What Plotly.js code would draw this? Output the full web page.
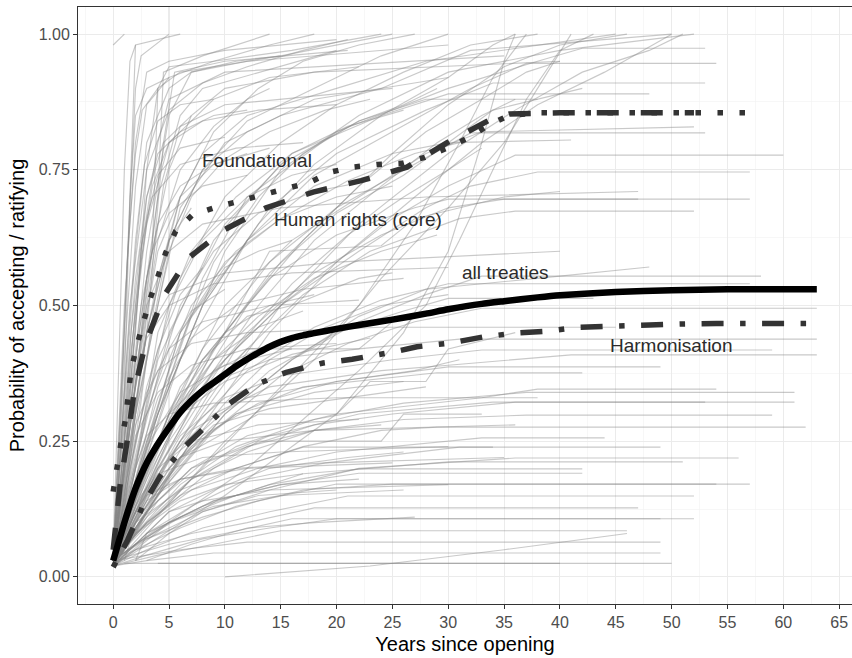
<!DOCTYPE html>
<html>
<head>
<meta charset="utf-8">
<script src="https://cdn.plot.ly/plotly-3.0.1.min.js"></script>
<style>html,body{margin:0;padding:0;background:#fff;}#chart{width:852px;height:658px;}</style>
</head>
<body>
<div id="chart"></div>
<script>
// ---- Summary curves (years since opening, probability) ----
const allYears = [0,0.5,1,1.5,2,2.5,3,3.5,4,5,6,7,8,9,10,11,12,13,14,15,16,17,18,20,22,25,28,30,33,35,38,40,45,50,55,60,63];
const allProb  = [.03,.065,.1,.133,.163,.188,.21,.228,.245,.275,.303,.325,.343,.358,.373,.388,.401,.413,.424,.433,.44,.445,.449,.457,.464,.474,.485,.493,.503,.508,.515,.519,.525,.528,.53,.53,.53];

const foundYears = [0,0.3,0.7,1.1,1.6,2.1,2.7,3.3,4,4.7,5.6,7.1,9.2,11.3,13.4,15.5,17.6,19.5,21.5,23.7,25.9,27.9,29.9,31.9,33.6,35.4,38,45,57];
const foundProb  = [.157,.2,.247,.29,.38,.425,.47,.512,.553,.597,.637,.667,.681,.692,.703,.714,.727,.746,.755,.76,.762,.773,.79,.81,.832,.85,.855,.855,.855];

const hrYears = [0,0.6,1.3,1.9,2.9,4.5,6.7,10,13.7,17.9,22.2,26.3,29.9,33.7,35.5,40,52];
const hrProb  = [.05,.166,.256,.344,.43,.516,.587,.64,.68,.709,.73,.755,.8,.842,.853,.855,.855];

const harmYears = [0,1.3,2.7,4.2,6.1,8.2,10.4,12.8,15.5,18.8,21.4,25,27.2,30.2,33.1,36,39,41.7,45,48,51,54,63];
const harmProb  = [.018,.068,.133,.185,.234,.277,.319,.354,.377,.394,.401,.414,.424,.431,.442,.449,.453,.46,.461,.464,.466,.467,.467];

const labelText  = ["Foundational","Human rights (core)","all treaties","Harmonisation"];
const labelYears = [12.9,21.9,35.1,50];
const labelProb  = [.768,.659,.56,.427];

const xTicks = [0,5,10,15,20,25,30,35,40,45,50,55,60,65];
const yTicks = [0,0.25,0.5,0.75,1];

// ---- Individual treaty trajectories [year, probability] ----
const treatyLines = [
 [[0,.98],[1,1.0]],
 [[0,.03],[1,.35],[1.5,.7],[2,.98],[6,1.0]],
 [[0,.04],[1,.5],[2,.8],[3,.93],[5,.95],[10,.97],[20,.99]],
 [[0,.05],[2,.45],[3,.75],[4,.9],[6,.93],[15,.96],[25,1.0]],
 [[0,.03],[1.5,.3],[3,.6],[5,.85],[7,.93],[12,.95],[30,.98]],
 [[0,.02],[2,.4],[4,.7],[6,.85],[8,.9],[15,.94],[20,.97]],
 [[0,.04],[1,.2],[2.5,.6],[4,.8],[5,.88],[10,.93],[35,.96]],
 [[0,.03],[2,.35],[3,.55],[5,.75],[7,.85],[10,.9],[18,.93],[40,.95]],
 [[0,.05],[1.5,.4],[3,.65],[5,.8],[9,.88],[14,.92],[22,.94]],
 [[0,.06],[3,.5],[4.5,.72],[6,.83],[10,.87],[25,.9]],
 [[0,.03],[2,.25],[4,.55],[6,.7],[8,.78],[12,.85],[20,.9],[28,.95],[45,1.0]],
 [[0,.02],[1,.15],[3,.45],[5,.62],[8,.75],[12,.82],[18,.88],[30,.92]],
 [[0,.04],[2,.3],[4,.5],[6,.68],[10,.8],[15,.85],[24,.9],[32,.97],[50,1.0]],
 [[0,.03],[3.5,.6],[4,.9],[5,.94],[9,.95],[16,.97],[24,1.0]],
 [[0,.02],[4,.7],[4.5,.93],[8,.96],[14,1.0]],
 [[0,.03],[2,.9],[2.5,.96],[5,1.0]],
 [[0,.04],[3,.45],[4.5,.8],[5.5,.93],[10,.95],[21,.97]],
 [[0,.03],[2,.3],[5,.62],[8,.75],[12,.84],[18,.9],[24,.96],[30,1.0]],
 [[0,.02],[3,.35],[6,.55],[10,.7],[15,.8],[20,.87],[26,.93],[32,.98],[38,1.0]],
 [[0,.04],[4,.3],[8,.5],[13,.65],[18,.76],[24,.85],[30,.92],[34,.98],[36,1.0]],
 [[0,.03],[5,.28],[10,.45],[15,.58],[20,.68],[25,.78],[30,.87],[35,.94],[40,.98],[46,1.0]],
 [[0,.05],[3,.45],[6,.7],[9,.82],[13,.9],[17,.95],[22,.98],[27,1.0]],
 [[0,.03],[1.5,.5],[3,.75],[5,.86],[8,.91],[12,.94],[17,.97],[21,.99]],
 [[0,.04],[2,.6],[3,.8],[5,.9],[7,.93],[11,.95],[15,.96]],
 [[0,.02],[1,.4],[2,.72],[3,.87],[5,.92],[9,.95],[14,.98],[18,1.0]],
 [[0,.03],[6,.3],[12,.5],[17,.62],[22,.72],[28,.82],[33,.88],[37,.93],[40,.95]],
 [[0,.04],[8,.35],[13,.5],[18,.62],[24,.72],[29,.8],[33,.85],[36,.88]],
 [[0,.02],[4,.22],[9,.42],[14,.56],[20,.67],[26,.74],[30,.8],[34,.86],[42,.9]],
 [[0,.03],[5,.38],[9,.58],[13,.7],[17,.78],[22,.84],[26,.87],[29,.9]],
 [[0,.05],[2,.35],[4,.62],[6,.75],[9,.83],[12,.88],[14,.9]],
 [[0,.03],[3,.4],[5,.6],[7,.7],[10,.77],[14,.82],[19,.86],[23,.88]],
 [[0,.02],[2,.2],[4,.45],[7,.6],[11,.7],[16,.78],[21,.83],[26,.86]],
 [[0,.04],[3,.25],[6,.45],[10,.58],[15,.66],[21,.73],[27,.78],[31,.8]],
 [[0,.03],[6,.25],[11,.42],[16,.54],[21,.63],[26,.7],[30,.75],[33,.79]],
 [[0,.02],[2,.5],[3,.7],[4,.78],[6,.82],[9,.85],[12,.86]],
 [[0,.03],[8,.2],[15,.35],[22,.5],[27,.65],[31,.8],[34,.92],[37,1.0]],
 [[0,.02],[10,.25],[18,.4],[24,.55],[30,.68],[35,.8],[38,.9],[41,1.0]],
 [[0,.02],[10,.15],[20,.3],[26,.45],[30,.6],[33,.8],[35,.95],[36,1.0]],
 [[0,.03],[12,.2],[22,.38],[28,.5],[31,.62],[34,.75],[37,.88],[40,.97],[43,1.0]],
 [[0,.03],[8,.3],[15,.5],[22,.65],[30,.78],[36,.86],[42,.93],[48,.97],[51,1.0]],
 [[0,.02],[7,.25],[14,.45],[20,.58],[27,.7],[33,.8],[38,.87],[44,.93],[50,1.0]],
 [[0,.03],[1,.45],[1.5,.7],[2,.85],[3,.9],[5,.92]],
 [[0,.04],[0.7,.3],[1.3,.6],[2,.78],[2.6,.86],[4,.9]],
 [[0,.02],[1.2,.4],[2,.62],[2.8,.76],[4,.84],[6,.87],[9,.88]],
 [[0,.05],[1,.3],[2,.55],[3,.7],[4.5,.8],[7,.85]],
 [[0,.03],[0.5,.4],[1,.75],[1.5,.95],[2,.98]],
 [[0,.04],[1.5,.35],[2.5,.58],[3.5,.72],[5,.8],[8,.84],[13,.86],[20,.87]],
 [[0,.03],[1,.25],[2,.5],[3,.66],[4,.74],[6,.79],[10,.81]],
 [[0,.02],[0.8,.2],[1.6,.45],[2.4,.6],[3.5,.7],[6,.76],[11,.79],[17,.8]],
 [[0,.03],[1,.12],[2,.3],[3,.48],[4,.6],[6,.7],[9,.76],[12,.78]],
 // lines levelling off to the right
 [[0,.03],[5,.35],[10,.6],[15,.75],[22,.85],[30,.93],[40,.97],[52,1.0]],
 [[0,.02],[4,.3],[8,.55],[12,.7],[20,.82],[30,.9],[38,.95],[42,.974],[53,.974]],
 [[0,.04],[6,.4],[12,.62],[18,.74],[25,.82],[32,.9],[37,.946],[54,.946]],
 [[0,.03],[3,.25],[8,.5],[14,.68],[20,.78],[28,.86],[34,.91],[53,.91]],
 [[0,.05],[5,.45],[10,.65],[16,.78],[24,.85],[30,.89],[48,.89]],
 [[0,.03],[4,.4],[9,.62],[15,.76],[22,.84],[28,.88],[38,.88]],
 [[0,.02],[5,.3],[10,.5],[16,.62],[22,.7],[28,.78],[33,.82],[52,.829]],
 [[0,.03],[3,.2],[8,.42],[14,.58],[20,.68],[27,.76],[32,.818],[53,.818]],
 [[0,.04],[6,.45],[12,.62],[18,.72],[25,.78],[30,.8],[41,.805]],
 [[0,.03],[5,.25],[10,.4],[15,.5],[20,.58],[25,.66],[30,.72],[36,.777],[60,.777]],
 [[0,.02],[4,.2],[9,.38],[15,.5],[22,.6],[28,.68],[32,.72],[38,.746],[57,.746]],
 [[0,.03],[6,.3],[12,.45],[18,.56],[24,.63],[30,.68],[35,.696],[57,.696]],
 [[0,.04],[3,.2],[8,.4],[14,.55],[20,.63],[27,.68],[30,.696],[47,.696]],
 [[0,.02],[5,.22],[11,.4],[17,.52],[23,.6],[31,.66],[36,.674],[52,.674]],
 [[0,.03],[4,.15],[10,.3],[16,.4],[22,.48],[28,.53],[38,.55],[48,.571]],
 [[0,.02],[5,.18],[10,.3],[16,.4],[22,.47],[28,.52],[33,.554],[58,.554]],
 [[0,.04],[6,.25],[12,.38],[18,.46],[24,.51],[30,.54],[57,.54]],
 [[0,.03],[4,.15],[9,.27],[15,.37],[21,.43],[27,.47],[33,.495],[63,.495]],
 [[0,.02],[7,.25],[14,.38],[20,.45],[26,.49],[30,.513],[43,.513]],
 [[0,.03],[2,.15],[5,.28],[9,.36],[14,.4],[22,.42],[31,.438],[63,.438]],
 [[0,.02],[3,.15],[6,.26],[10,.33],[15,.37],[25,.4],[33,.418],[59,.418]],
 [[0,.04],[2,.12],[5,.22],[9,.3],[14,.35],[24,.38],[30,.39],[41,.409],[63,.409]],
 [[0,.03],[3,.16],[7,.27],[12,.33],[20,.36],[30,.387],[49,.387]],
 [[0,.02],[2,.1],[6,.22],[11,.3],[17,.35],[29,.376],[42,.376]],
 [[0,.03],[3,.12],[7,.2],[12,.26],[20,.3],[33,.33],[38,.346],[54,.346]],
 [[0,.02],[2,.08],[6,.17],[11,.24],[18,.29],[26,.32],[37,.34],[61,.34]],
 [[0,.03],[3,.1],[7,.18],[12,.24],[18,.28],[25,.3],[36,.322],[61,.322]],
 [[0,.02],[4,.14],[8,.21],[14,.26],[22,.3],[34,.322],[53,.322]],
 [[0,.03],[3,.11],[7,.18],[12,.23],[18,.27],[26,.29],[37,.298],[59,.298]],
 [[0,.02],[2,.08],[6,.15],[11,.2],[17,.24],[24,.27],[29,.276],[62,.276]],
 [[0,.03],[3,.1],[7,.16],[13,.2],[20,.23],[33,.256],[44,.256]],
 [[0,.02],[3,.08],[7,.13],[12,.18],[19,.21],[31,.239],[49,.239]],
 [[0,.03],[2,.1],[6,.16],[11,.2],[17,.239],[34,.239]],
 [[0,.02],[3,.07],[8,.12],[14,.16],[22,.2],[36,.219],[56,.219]],
 [[0,.03],[2,.06],[6,.11],[11,.15],[17,.19],[30,.212],[51,.212]],
 [[0,.02],[3,.08],[8,.13],[14,.17],[22,.199],[42,.199]],
 [[0,.03],[4,.09],[9,.14],[15,.17],[22,.191],[42,.191]],
 [[0,.02],[2,.05],[6,.09],[11,.13],[17,.16],[25,.171],[57,.171]],
 [[0,.03],[3,.07],[8,.11],[13,.14],[20,.171],[54,.171]],
 [[0,.02],[3,.05],[8,.09],[14,.12],[21,.149],[52,.149]],
 [[0,.03],[2,.05],[7,.08],[12,.1],[18,.127],[47,.127]],
 [[0,.02],[3,.04],[8,.07],[14,.09],[20,.107],[52,.107]],
 [[0,.03],[5,.06],[10,.08],[16,.107],[49,.107]],
 [[0,.02],[4,.04],[9,.06],[15,.085],[46,.085]],
 [[0,.03],[6,.05],[12,.064],[49,.064]],
 [[0,.02],[3,.03],[9,.044],[49,.044]],
 [[1,.025],[50,.025]],
 [[4,.025],[40,.025]],
 [[10,0],[23,.02],[35,.05],[46,.08]],
 // stepped and shorter trajectories
 [[0,.03],[5,.3],[10,.45],[14,.6],[24,.61],[27,.66],[35,.7],[40,.71]],
 [[0,.02],[4,.2],[8,.33],[12,.42],[22,.42],[25,.47],[33,.5]],
 [[0,.04],[6,.22],[13,.3],[20,.3],[23,.36],[28,.36],[30,.42],[36,.45]],
 [[0,.03],[3,.1],[9,.2],[13,.25],[24,.25],[26,.3],[33,.3]],
 [[0,.03],[3,.2],[6,.35],[10,.45],[14,.5],[18,.52]],
 [[0,.02],[2,.15],[5,.3],[9,.38],[13,.42]],
 [[0,.04],[4,.25],[8,.4],[12,.48],[16,.5],[22,.55],[25,.56]],
 [[0,.03],[3,.12],[7,.2],[12,.24],[18,.27],[24,.28]],
 [[0,.02],[2,.08],[6,.14],[10,.17],[17,.19]],
 [[0,.03],[2,.1],[5,.2],[9,.28],[14,.31],[21,.33],[28,.35]],
 [[0,.04],[4,.3],[7,.48],[10,.57],[13,.6],[16,.62]],
 [[0,.02],[4,.16],[8,.26],[13,.32],[20,.36],[27,.38],[31,.4]],
 [[0,.03],[2,.25],[4,.42],[6,.52],[8,.57]],
 [[0,.02],[1,.1],[3,.3],[5,.42],[7,.49],[10,.53]],
 [[0,.03],[2,.18],[4,.35],[7,.5],[11,.6],[15,.66],[20,.7],[25,.72]],
 [[0,.02],[3,.12],[6,.22],[10,.32],[14,.4],[19,.46],[24,.5],[30,.52]],
 [[0,.03],[1,.08],[3,.2],[6,.32],[9,.4],[13,.46],[17,.49]],
 [[0,.04],[2,.14],[5,.28],[9,.4],[13,.48],[18,.55],[24,.6],[29,.63]],
 [[0,.03],[3,.18],[6,.3],[10,.36],[16,.41],[23,.44]],
 [[0,.02],[2,.08],[4,.16],[7,.24],[11,.3],[18,.34],[26,.36]],
 [[0,.03],[1.5,.12],[3,.24],[6,.34],[10,.39],[16,.42]],
 [[0,.02],[2,.05],[5,.1],[9,.14],[15,.17],[22,.18]],
 [[0,.03],[2,.06],[5,.12],[9,.16],[14,.2],[21,.22],[26,.23]],
 [[2,.03],[5,.08],[8,.12],[13,.15],[20,.16]],
 [[3,.03],[7,.06],[12,.09],[18,.1],[27,.11]],
 [[0,.02],[1,.15],[2,.32],[3,.45],[4,.55],[5,.62],[7,.68]],
 [[0,.03],[2,.4],[3,.55],[4,.65],[6,.72],[9,.76],[14,.79]],
 [[0,.02],[3,.3],[6,.5],[9,.6],[13,.67],[18,.71],[23,.73]],
 [[0,.04],[5,.5],[8,.62],[12,.7],[16,.74],[20,.76]],
 [[0,.03],[1,.1],[2,.2],[3,.26],[5,.3],[9,.32],[20,.33],[38,.33]],
 [[0,.02],[1,.15],[2,.28],[4,.38],[7,.43],[12,.45],[24,.46],[45,.46]],
 [[0,.04],[0.5,.12],[1.5,.3],[3,.45],[5,.52],[10,.56],[20,.58],[40,.6]],
 [[0,.03],[1,.08],[2.5,.15],[4,.19],[8,.22],[15,.23],[30,.24]],
 [[1,.03],[2,.1],[3,.15],[6,.18],[12,.2],[25,.21]],
 [[0,.02],[1.5,.2],[3,.34],[5,.42],[8,.47],[14,.5],[22,.51]],
 [[0,.05],[1,.22],[2,.38],[3,.5],[5,.6],[8,.65],[15,.68],[28,.7],[47,.71]],
 [[0,.03],[2,.12],[4,.18],[6,.22],[10,.25],[18,.27],[36,.28]],
 [[2,.03],[3,.08],[5,.12],[8,.14],[14,.16],[30,.17]],
 [[0,.03],[0.8,.18],[1.6,.35],[2.5,.5],[3.5,.6],[5,.67],[8,.72],[12,.74]],
 [[0,.02],[2,.06],[5,.1],[9,.13],[15,.15],[26,.16]],
 [[0,.04],[1,.16],[2,.26],[4,.34],[7,.39],[12,.42],[20,.43]],
 [[0,.03],[1,.2],[2,.36],[3,.44],[5,.5],[9,.54],[16,.56],[30,.57]],
 [[0,.02],[1,.06],[2,.13],[4,.2],[7,.25],[13,.28],[22,.29]],
 [[0,.03],[1.5,.09],[3,.14],[6,.18],[11,.2],[19,.21],[35,.22]],
 [[0,.04],[2,.2],[4,.33],[7,.44],[11,.5],[17,.53],[26,.55]]
];

const greyColor = 'rgba(135,135,135,0.45)';
const traces = [];
treatyLines.forEach(function(pts){
  traces.push({
    type:'scatter', mode:'lines',
    x: pts.map(function(p){return p[0];}),
    y: pts.map(function(p){return p[1];}),
    line:{color:greyColor, width:1.15},
    hoverinfo:'skip', showlegend:false
  });
});

traces.push({type:'scatter',mode:'lines',x:harmYears,y:harmProb,
  line:{color:'#333333',width:5.5,dash:'5.5px,16.5px,22px,16.5px'},showlegend:false,name:'Harmonisation'});
traces.push({type:'scatter',mode:'lines',x:hrYears,y:hrProb,
  line:{color:'#333333',width:5.5,dash:'22px,22px'},showlegend:false,name:'Human rights (core)'});
traces.push({type:'scatter',mode:'lines',x:foundYears,y:foundProb,
  line:{color:'#333333',width:5.5,dash:'5.5px,16.5px'},showlegend:false,name:'Foundational'});
traces.push({type:'scatter',mode:'lines',x:allYears,y:allProb,
  line:{color:'#000000',width:6.5,shape:'spline',smoothing:0.6},showlegend:false,name:'all treaties'});

const annotations = labelText.map(function(t,i){
  return {x:labelYears[i], y:labelProb[i], text:t, showarrow:false,
    font:{family:'Liberation Sans, Arial, sans-serif', size:19, color:'#2b2b2b'},
    xanchor:'center', yanchor:'middle'};
});

const fontFam = 'Liberation Sans, Arial, sans-serif';
const layout = {
  width:852, height:658,
  margin:{l:78, r:0, t:7, b:54},
  paper_bgcolor:'#ffffff', plot_bgcolor:'#ffffff',
  showlegend:false,
  font:{family:fontFam},
  xaxis:{
    range:[-3.15,66.15], tickvals:xTicks, ticktext:xTicks.map(String),
    showgrid:true, gridcolor:'#ebebeb', gridwidth:1.1,
    minor:{dtick:2.5, tick0:0, showgrid:true, gridcolor:'#f2f2f2', gridwidth:0.6, ticks:''},
    zeroline:false, showline:true, mirror:true, linecolor:'#333333', linewidth:1,
    ticks:'outside', ticklen:4, tickcolor:'#333333', tickwidth:1,
    tickfont:{family:fontFam, size:16, color:'#4d4d4d'},
    title:{text:'Years since opening', font:{family:fontFam, size:20, color:'#000000'}, standoff:6}
  },
  yaxis:{
    range:[-0.05,1.05], tickvals:yTicks, ticktext:yTicks.map(function(v){return v.toFixed(2);}),
    showgrid:true, gridcolor:'#ebebeb', gridwidth:1.1,
    minor:{dtick:0.125, tick0:0, showgrid:true, gridcolor:'#f2f2f2', gridwidth:0.6, ticks:''},
    zeroline:false, showline:true, mirror:true, linecolor:'#333333', linewidth:1,
    ticks:'outside', ticklen:4, tickcolor:'#333333', tickwidth:1,
    tickfont:{family:fontFam, size:16, color:'#4d4d4d'},
    title:{text:'Probability of accepting / ratifying', font:{family:fontFam, size:20, color:'#000000'}, standoff:8}
  },
  annotations:annotations
};

Plotly.newPlot('chart', traces, layout, {displayModeBar:false, staticPlot:true});
</script>
</body>
</html>
